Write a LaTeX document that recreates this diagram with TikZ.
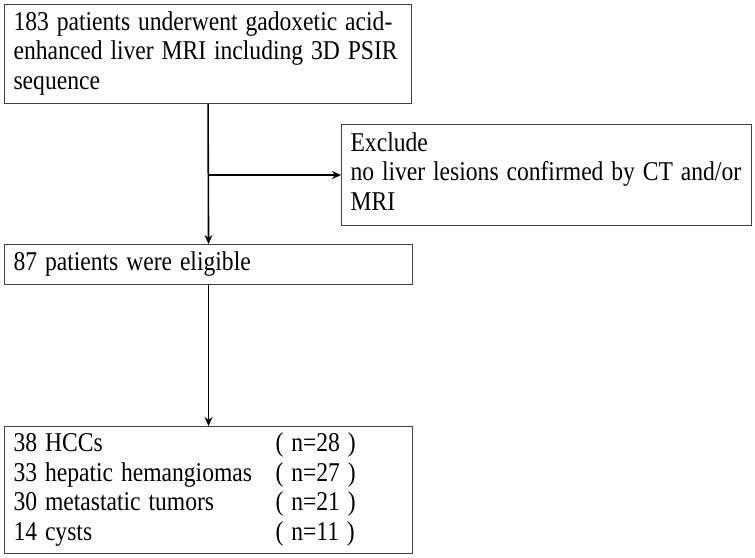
\documentclass[tikz,border=0pt]{standalone}
\usepackage{fontspec}
\usepackage{graphicx}
\setmainfont{Liberation Serif}
\usetikzlibrary{arrows.meta}

% rows of text, a little taller than the font
\newcommand\rowsbox[2][l]{\scalebox{1}[1.15]{\begin{tabular}{@{}#1@{}}#2\end{tabular}}}

\tikzset{
  stepbox/.style={draw=black!75, line width=1.1pt, anchor=north west, align=left,
    inner xsep=9pt, inner ysep=0pt, font=\fontsize{23.6}{25.6}\selectfont},
  flow/.style={line width=1.6pt, -{Stealth[length=9pt,width=8pt]}}
}

\begin{document}
\begin{tikzpicture}[x=1pt,y=-1pt]
        \useasboundingbox (0,0) rectangle (755,557);
        % boxes
        \node[stepbox, minimum width=407pt, minimum height=99pt, text width=389pt] (start) at (4,4)
           {\rowsbox{183 patients underwent gadoxetic acid-\\enhanced liver MRI including 3D PSIR\\sequence}};
        \node[stepbox, minimum width=410pt, minimum height=101pt, text width=392pt] (exclude) at (341,124)
           {\rowsbox{Exclude\\no liver lesions confirmed by CT and/or\\MRI}};
        \node[stepbox, minimum width=408pt, minimum height=40pt, text width=390pt] (eligible) at (4,244)
           {\rowsbox{87 patients were eligible}};
        \node[stepbox, minimum width=408pt, minimum height=127pt, text width=390pt] (lesions) at (4,426)
           {\rowsbox[p{262pt}@{}l]{
            38 HCCs & ( n=28 )\\
            33 hepatic hemangiomas & ( n=27 )\\
            30 metastatic tumors & ( n=21 )\\
            14 cysts & ( n=11 )}};
        % arrows
        \coordinate (branch) at (start.south |- exclude.west);
        \draw[flow] (start.south) -- (eligible.north);
        \draw[flow] (branch) -- (exclude.west);
        \draw[flow] (eligible.south) -- (lesions.north);
      \end{tikzpicture}
\end{document}
